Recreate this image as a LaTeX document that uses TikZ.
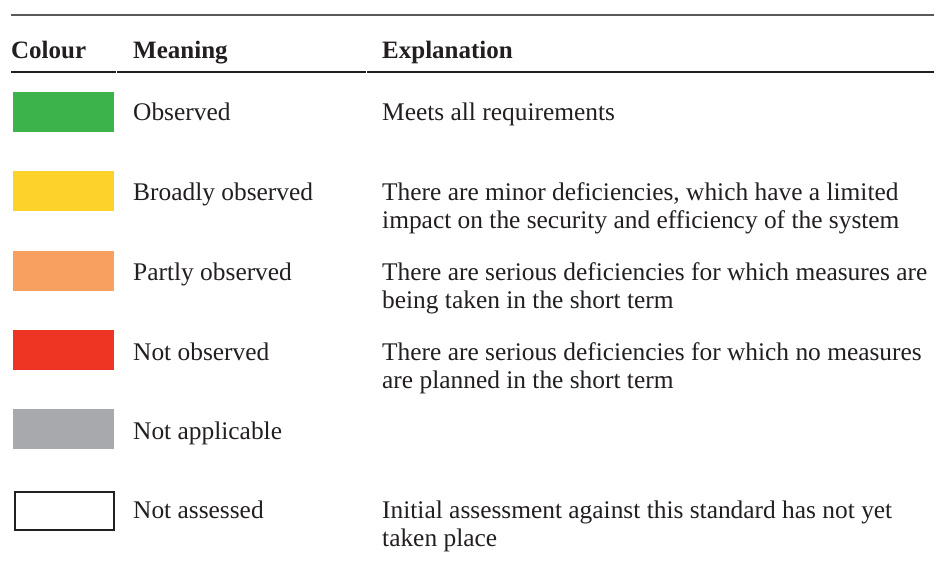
\documentclass[tikz,border=0pt]{standalone}
\usepackage{fontspec}
\setmainfont{Liberation Serif}
\definecolor{cgreen}{HTML}{3DB44B}
\definecolor{cyellow}{HTML}{FDD22A}
\definecolor{corange}{HTML}{F7A05F}
\definecolor{cred}{HTML}{EE3524}
\definecolor{cgrey}{HTML}{A8A9AD}
\definecolor{ink}{HTML}{231F20}
\begin{document}
\begin{tikzpicture}[x=1pt,y=-1pt,
  txt/.style={anchor=base west,inner sep=0pt,font=\fontsize{25.4}{28}\selectfont,text=ink},
  hdr/.style={txt,font=\fontsize{25}{28}\selectfont\bfseries},
  swatch/.style={draw=none,minimum width=101pt,minimum height=40pt,inner sep=0pt,anchor=north west}]
\useasboundingbox (0,0) rectangle (944,577);
\fill[white] (0,0) rectangle (944,577);
% rules
\draw[line width=1.2pt,draw=black!65] (11,15) -- (934,15);
\draw[line width=1.2pt,draw=ink] (11,72) -- (116,72);
\draw[line width=1.2pt,draw=ink] (117,72) -- (366,72);
\draw[line width=1.2pt,draw=ink] (367,72) -- (934,72);
% header
\node[hdr] (hc) at (11,59) {Colour};
\node[hdr] (hm) at (133,59) {Meaning};
\node[hdr] (he) at (382,59) {Explanation};
% swatches
\node[swatch,fill=cgreen] (s1) at (13,92) {};
\node[swatch,fill=cyellow] (s2) at (13,171) {};
\node[swatch,fill=corange] (s3) at (13,251) {};
\node[swatch,fill=cred] (s4) at (13,330) {};
\node[swatch,fill=cgrey] (s5) at (13,409) {};
\node[swatch,draw=ink,line width=2pt,minimum width=99pt,minimum height=38pt] (s6) at (14,491) {};
% meanings
\node[txt] (m1) at (133,121) {Observed};
\node[txt] (m2) at (133,201) {Broadly observed};
\node[txt] (m3) at (133,280) {Partly observed};
\node[txt] (m4) at (133,360) {Not observed};
\node[txt] (m5) at (133,439) {Not applicable};
\node[txt] (m6) at (133,518) {Not assessed};
% explanations
\node[txt] (e1) at (382,121) {Meets all requirements};
\node[txt] (e2a) at (382,201) {There are minor deficiencies, which have a limited};
\node[txt] (e2b) at (382,229) {impact on the security and efficiency of the system};
\node[txt] (e3a) at (382,280) {There are serious deficiencies for which measures are};
\node[txt] (e3b) at (382,308) {being taken in the short term};
\node[txt] (e4a) at (382,360) {There are serious deficiencies for which no measures};
\node[txt] (e4b) at (382,388) {are planned in the short term};
\node[txt] (e6a) at (382,518) {Initial assessment against this standard has not yet};
\node[txt] (e6b) at (382,546) {taken place};
\end{tikzpicture}
\end{document}
